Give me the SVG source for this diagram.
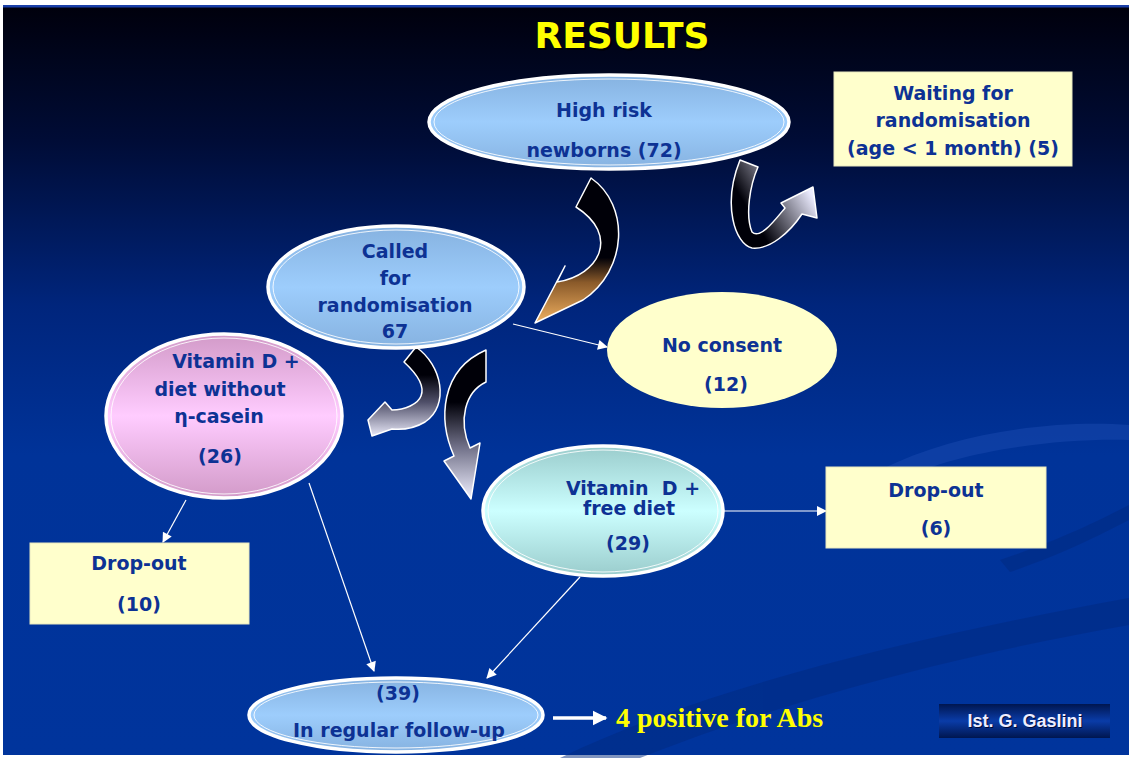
<svg xmlns="http://www.w3.org/2000/svg" width="1132" height="758" viewBox="0 0 1132 758">
<defs>
<linearGradient id="bg" x1="0" y1="0" x2="0" y2="1">
<stop offset="0" stop-color="#00000c"/>
<stop offset="0.18" stop-color="#000c36"/>
<stop offset="0.4" stop-color="#00257c"/>
<stop offset="0.6" stop-color="#003399"/>
<stop offset="1" stop-color="#00349c"/>
</linearGradient>
<linearGradient id="gBlue" x1="0" y1="0" x2="0" y2="1">
<stop offset="0" stop-color="#86b2e0"/>
<stop offset="0.5" stop-color="#9dcdfc"/>
<stop offset="1" stop-color="#86b2e0"/>
</linearGradient>
<linearGradient id="gPink" x1="0" y1="0" x2="0" y2="1">
<stop offset="0" stop-color="#d29ac8"/>
<stop offset="0.5" stop-color="#ffccff"/>
<stop offset="1" stop-color="#d29ac8"/>
</linearGradient>
<linearGradient id="gCyan" x1="0" y1="0" x2="0" y2="1">
<stop offset="0" stop-color="#9acccc"/>
<stop offset="0.5" stop-color="#ccffff"/>
<stop offset="1" stop-color="#9acccc"/>
</linearGradient>
<linearGradient id="gBadge" x1="0" y1="0" x2="0" y2="1">
<stop offset="0" stop-color="#001650"/>
<stop offset="0.5" stop-color="#0a3ca8"/>
<stop offset="1" stop-color="#001650"/>
</linearGradient>
<linearGradient id="gA1" gradientUnits="userSpaceOnUse" x1="0" y1="178" x2="0" y2="323">
<stop offset="0" stop-color="#000008"/>
<stop offset="0.55" stop-color="#000008"/>
<stop offset="0.72" stop-color="#8a5a2a"/>
<stop offset="1" stop-color="#f0b060"/>
</linearGradient>
<linearGradient id="gA2" gradientUnits="userSpaceOnUse" x1="745" y1="235" x2="812" y2="195">
<stop offset="0" stop-color="#000008"/>
<stop offset="0.2" stop-color="#000008"/>
<stop offset="1" stop-color="#ececff"/>
</linearGradient>
<linearGradient id="gA3" gradientUnits="userSpaceOnUse" x1="0" y1="375" x2="0" y2="436">
<stop offset="0" stop-color="#000008"/>
<stop offset="0.45" stop-color="#50506a"/>
<stop offset="1" stop-color="#e8e8f8"/>
</linearGradient>
<linearGradient id="gA4" gradientUnits="userSpaceOnUse" x1="0" y1="350" x2="0" y2="499">
<stop offset="0" stop-color="#000008"/>
<stop offset="0.35" stop-color="#000008"/>
<stop offset="0.65" stop-color="#707088"/>
<stop offset="1" stop-color="#f0f0ff"/>
</linearGradient>
<marker id="ah" viewBox="0 0 10 10" refX="9" refY="5" markerWidth="11" markerHeight="10" markerUnits="userSpaceOnUse" orient="auto">
<path d="M0,0 L10,5 L0,10 Z" fill="#ffffff"/>
</marker>
<marker id="ahBig" viewBox="0 0 10 10" refX="9" refY="5" markerWidth="15" markerHeight="16" markerUnits="userSpaceOnUse" orient="auto">
<path d="M0,0 L10,5 L0,10 Z" fill="#ffffff"/>
</marker>
<style>
.t{font-family:"DejaVu Sans",Verdana,sans-serif;font-weight:bold;font-size:19px;fill:#0d3294;text-anchor:middle}
.ring{stroke:#ffffff;stroke-width:3.5}
.inner{fill:none;stroke:#ffffff;stroke-width:1;opacity:0.85}
.box{fill:#ffffcc;stroke:#e8e8c0;stroke-width:1}
.conn{stroke:#ffffff;stroke-width:1.2;fill:none;marker-end:url(#ah)}
.barrow{stroke:#ffffff;stroke-width:1.5;stroke-linejoin:round}
</style>
</defs>

<rect x="0" y="0" width="1132" height="758" fill="#ffffff"/>
<rect x="3" y="5" width="1126" height="750" fill="url(#bg)"/>
<rect x="3" y="5" width="1126" height="2.5" fill="#1a3fa8"/>

<g id="swooshes" opacity="0.5">
<path d="M560,758 C700,690 900,640 1129,598 L1129,625 C930,660 760,710 640,758 Z" fill="#002a80"/>
<path d="M880,470 C960,430 1060,420 1129,425 L1129,440 C1060,438 960,450 900,480 Z" fill="#1a4ab0"/>
<path d="M1000,560 C1060,540 1100,520 1129,505 L1129,520 C1100,535 1060,555 1010,572 Z" fill="#002a80"/>
</g>

<g id="title">
<text x="624" y="50" font-family="DejaVu Sans, sans-serif" font-weight="bold" font-size="36" fill="#000000" text-anchor="middle" opacity="0.7">RESULTS</text>
<text x="622" y="48" font-family="DejaVu Sans, sans-serif" font-weight="bold" font-size="36" fill="#ffff00" text-anchor="middle">RESULTS</text>
</g>

<g id="block-arrows">
<path id="arrow-highrisk-called" class="barrow" fill="url(#gA1)" d="M576,207 L591,178 C630,205 628,270 583,300 L535,323 L565,266 L557,282 C600,275 620,235 576,207 Z"/>
<path id="arrow-highrisk-waiting" class="barrow" fill="url(#gA2)" d="M740,160 L758,167 C750,185 745,215 752,232 C760,240 775,220 785,208 L781,203 L813,187 L817,218 L802,214 C790,232 770,250 752,248 C735,244 722,205 740,160 Z"/>
<path id="arrow-called-vitd-free" class="barrow" fill="url(#gA4)" d="M486,350 L486,382 C465,392 458,420 470,448 L480,443 L471,499 L444,461 L454,456 C438,420 440,370 486,350 Z"/>
<path id="arrow-called-vitd-casein" class="barrow" fill="url(#gA3)" d="M404,362 L416,347 C442,365 450,405 425,422 C415,428 402,430 392,429 L372,436 L368,420 L385,402 L392,410 C405,410 418,404 421,396 C425,386 416,373 404,362 Z"/>
</g>

<g id="connectors">
<line class="conn" x1="513" y1="324" x2="607" y2="347"/>
<line class="conn" x1="186" y1="500" x2="163" y2="542"/>
<line class="conn" x1="309" y1="483" x2="374" y2="671"/>
<line class="conn" x1="580" y1="577" x2="487" y2="678"/>
<line class="conn" x1="723" y1="511" x2="826" y2="511"/>
<line x1="553" y1="718" x2="606" y2="718" stroke="#ffffff" stroke-width="3.5" marker-end="url(#ahBig)"/>
</g>

<g id="node-highrisk">
<ellipse cx="609" cy="122" rx="180" ry="47" fill="url(#gBlue)" class="ring"/>
<ellipse cx="609" cy="122" rx="175" ry="43" class="inner"/>
<text class="t" x="604" y="117">High risk</text>
<text class="t" x="604" y="157">newborns (72)</text>
</g>

<g id="node-waiting">
<rect class="box" x="834" y="72" width="238" height="94"/>
<text class="t" x="953" y="100">Waiting for</text>
<text class="t" x="953" y="127">randomisation</text>
<text class="t" x="953" y="155">(age &lt; 1 month) (5)</text>
</g>

<g id="node-called">
<ellipse cx="396" cy="287" rx="128" ry="61" fill="url(#gBlue)" class="ring"/>
<ellipse cx="396" cy="287" rx="123" ry="57" class="inner"/>
<text class="t" x="395" y="258">Called</text>
<text class="t" x="395" y="285">for</text>
<text class="t" x="395" y="312">randomisation</text>
<text class="t" x="395" y="338">67</text>
</g>

<g id="node-noconsent">
<ellipse cx="722" cy="350" rx="115" ry="58" fill="#ffffcc"/>
<text class="t" x="722" y="352">No consent</text>
<text class="t" x="726" y="391">(12)</text>
</g>

<g id="node-vitd-casein">
<ellipse cx="224" cy="416" rx="118" ry="82" fill="url(#gPink)" class="ring"/>
<ellipse cx="224" cy="416" rx="113" ry="78" class="inner"/>
<text class="t" x="236" y="368">Vitamin D +</text>
<text class="t" x="220" y="396">diet without</text>
<text class="t" x="219" y="423">η-casein</text>
<text class="t" x="220" y="463">(26)</text>
</g>

<g id="node-vitd-free">
<ellipse cx="603" cy="511" rx="120" ry="65" fill="url(#gCyan)" class="ring"/>
<ellipse cx="603" cy="511" rx="115" ry="61" class="inner"/>
<text class="t" x="633" y="495" style="white-space:pre">Vitamin  D +</text>
<text class="t" x="629" y="515">free diet</text>
<text class="t" x="628" y="550">(29)</text>
</g>

<g id="node-dropout6">
<rect class="box" x="826" y="467" width="220" height="81"/>
<text class="t" x="936" y="497">Drop-out</text>
<text class="t" x="936" y="535">(6)</text>
</g>

<g id="node-dropout10">
<rect class="box" x="30" y="543" width="219" height="81"/>
<text class="t" x="139" y="570">Drop-out</text>
<text class="t" x="139" y="611">(10)</text>
</g>

<g id="node-followup">
<ellipse cx="396" cy="715" rx="147" ry="37" fill="url(#gBlue)" class="ring"/>
<ellipse cx="396" cy="715" rx="142" ry="33" class="inner"/>
<text class="t" x="398" y="700">(39)</text>
<text class="t" x="399" y="737">In regular follow-up</text>
</g>

<g id="node-positive">
<text x="616" y="727" font-family="Liberation Serif, Times New Roman, serif" font-weight="bold" font-size="28" fill="#ffff00">4 positive for Abs</text>
</g>

<g id="badge">
<rect x="939" y="704" width="171" height="34" fill="url(#gBadge)"/>
<text x="1026" y="728" font-family="Liberation Sans, Arial, sans-serif" font-weight="bold" font-size="18" fill="#000020" text-anchor="middle" opacity="0.8">Ist. G. Gaslini</text>
<text x="1025" y="727" font-family="Liberation Sans, Arial, sans-serif" font-weight="bold" font-size="18" fill="#eeeeff" text-anchor="middle">Ist. G. Gaslini</text>
</g>
</svg>
